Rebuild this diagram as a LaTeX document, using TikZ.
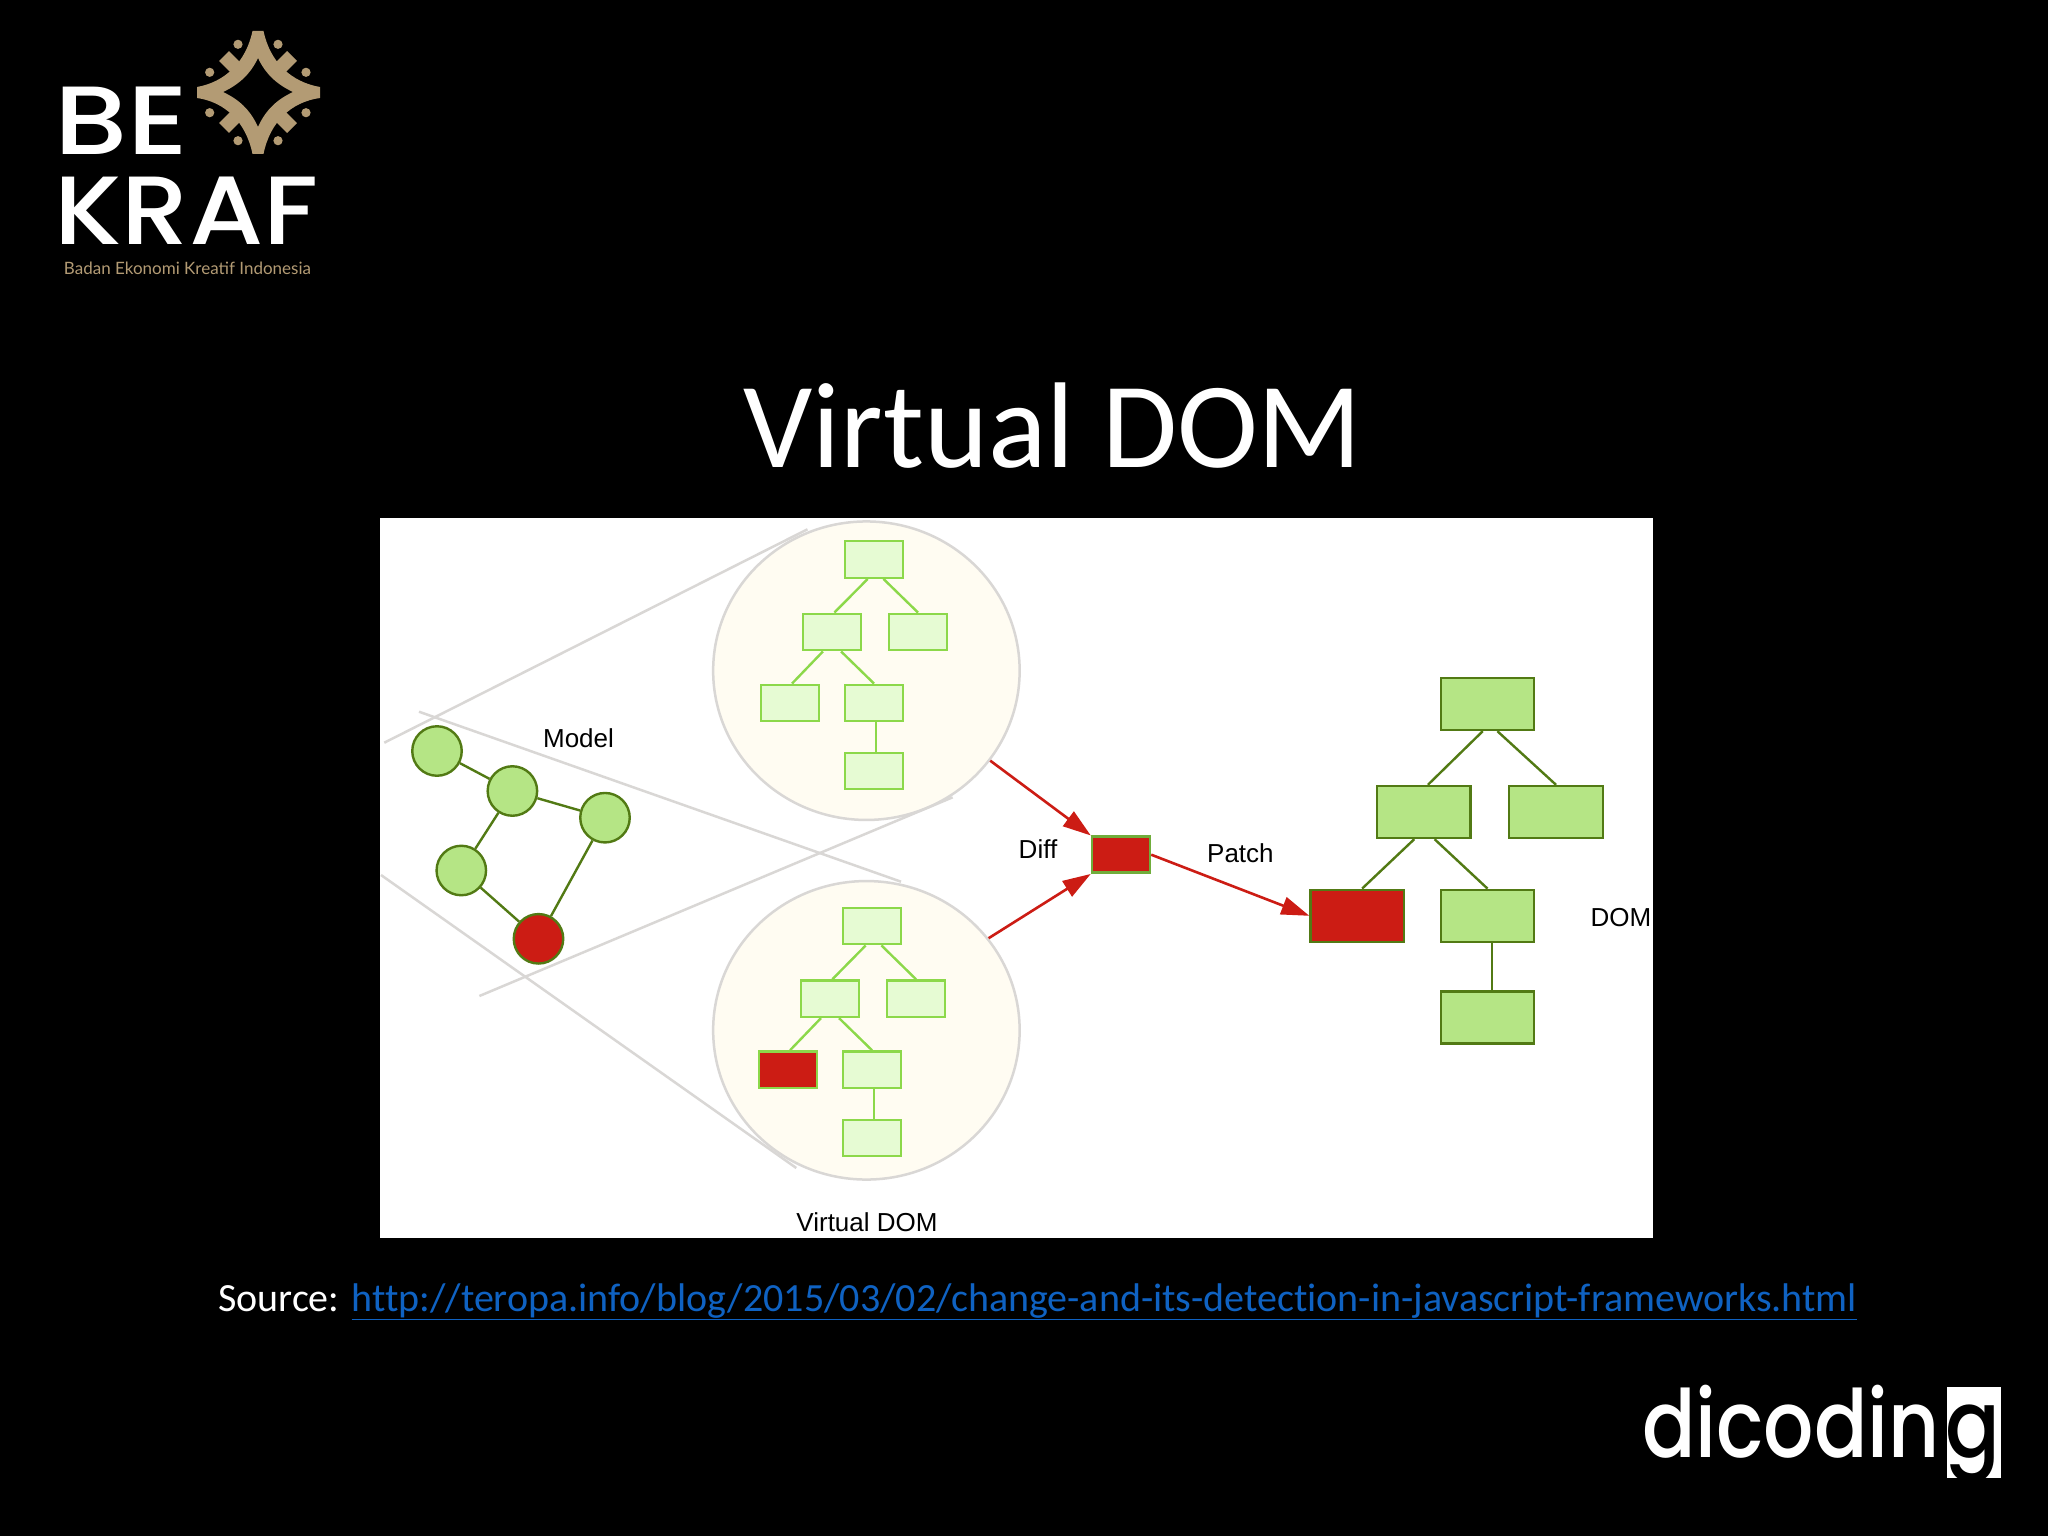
\documentclass[tikz,border=0pt]{standalone}
\usepackage{fontspec}
\setmainfont{Liberation Sans}
\newfontfamily\slidefont[Ligatures=NoCommon]{Carlito}
\newfontfamily\logofont{Poppins Medium}
\newfontfamily\tagfont{Lato}
\usetikzlibrary{arrows.meta,shapes.geometric}
\definecolor{leaf}{HTML}{B5E585}
\definecolor{leafline}{HTML}{527A14}
\definecolor{pale}{HTML}{E6FBD3}
\definecolor{paleline}{HTML}{8CD84A}
\definecolor{alert}{HTML}{CC1C14}
\definecolor{shell}{HTML}{FFFCF2}
\definecolor{guide}{HTML}{D9D7D5}
\definecolor{gold}{HTML}{B39B74}
\definecolor{linkblue}{HTML}{0F62C2}

\begin{document}
\begin{tikzpicture}
    [x=1pt,y=-1pt,
    vbox/.style={rectangle,draw=paleline,fill=pale,line width=2.4pt,inner sep=0,minimum width=58.5pt,minimum height=36.5pt},
    dbox/.style={rectangle,draw=leafline,fill=leaf,line width=2.4pt,inner sep=0,minimum width=93.5pt,minimum height=52pt},
    mcirc/.style={circle,draw=leafline,fill=leaf,line width=2.4pt,inner sep=0,minimum size=49.5pt},
    shellc/.style={ellipse,draw=guide,fill=shell,line width=2.5pt,inner sep=0,minimum width=306.5pt,minimum height=298.5pt},
    vedge/.style={draw=paleline,line width=2.4pt},
    dedge/.style={draw=leafline,line width=2.4pt},
    guideline/.style={draw=guide,line width=2.5pt},
    redarrow/.style={draw=alert,line width=2.6pt,-{Triangle[length=28pt,width=18pt]}},
    lbl/.style={inner sep=0,font=\fontsize{26}{30}\selectfont},
    biglogo/.style={inner sep=0,anchor=base west,text=white,transform shape,font=\logofont\fontsize{97}{100}\selectfont}]
    \fill[black] (0,0) rectangle (2048,1536);
    \useasboundingbox (0,0) rectangle (2048,1536);

    \node[inner sep=0,anchor=base,text=white,font=\slidefont\fontsize{122}{130}\selectfont] (title) at (1053,467) {Virtual DOM};
    \node[inner sep=0,anchor=base west,text=white,font=\slidefont\fontsize{40}{44}\selectfont] (source) at (218,1311)
        {Source: \textcolor{linkblue}{\underline{http://teropa.info/blog/2015/03/02/change-and-its-detection-in-javascript-frameworks.html}}};

    \fill[white] (380,518) rectangle (1652.5,1238);

    \node[shellc] (top) at (866.4,670.7) {};
    \node[shellc] (bottom) at (866.4,1030.3) {};

    \coordinate (g1a) at (384.3,742.7);
    \coordinate (g1b) at (807.5,529.3);
    \coordinate (g2a) at (419,711.7);
    \coordinate (g2b) at (901,881.7);
    \coordinate (g3a) at (479.4,996);
    \coordinate (g3b) at (952.6,797.3);
    \coordinate (g4a) at (381,875);
    \coordinate (g4b) at (796.3,1168);
    \draw[guideline] (g1a) -- (g1b);
    \draw[guideline] (g2a) -- (g2b);
    \draw[guideline] (g3a) -- (g3b);
    \draw[guideline] (g4a) -- (g4b);

    \node[mcirc] (m1) at (437,751) {};
    \node[mcirc] (m2) at (512.4,791) {};
    \node[mcirc] (m3) at (605,817.7) {};
    \node[mcirc] (m4) at (461.3,870.5) {};
    \node[mcirc,fill=alert] (m5) at (538.5,938.8) {};

    \draw[dedge] (m1) -- (m2);
    \draw[dedge] (m2) -- (m3);
    \draw[dedge] (m2) -- (m4);
    \draw[dedge] (m3) -- (m5);
    \draw[dedge] (m4) -- (m5);

    \node[vbox] (v1) at (874,559.5) {};
    \node[vbox] (v2) at (832,632) {};
    \node[vbox] (v3) at (918,632) {};
    \node[vbox] (v4) at (790,703) {};
    \node[vbox] (v5) at (874,703) {};
    \node[vbox] (v6) at (874,771) {};

    \draw[vedge] (v1.-108) -- (v2.83);
    \draw[vedge] (v1.-64) -- (v3.90);
    \draw[vedge] (v2.-115) -- (v4.84);
    \draw[vedge] (v2.-65) -- (v5.90);
    \draw[vedge] (v5.-84) -- (v6.84);

    \node[vbox] (w1) at (872,926) {};
    \node[vbox] (w2) at (830,998.7) {};
    \node[vbox] (w3) at (916,998.7) {};
    \node[vbox,fill=alert] (w4) at (788,1069.7) {};
    \node[vbox] (w5) at (872,1069.7) {};
    \node[vbox] (w6) at (872,1138) {};

    \draw[vedge] (w1.-108) -- (w2.83);
    \draw[vedge] (w1.-64) -- (w3.90);
    \draw[vedge] (w2.-115) -- (w4.84);
    \draw[vedge] (w2.-65) -- (w5.90);
    \draw[vedge] (w5.-84) -- (w6.84);

    \node[rectangle,draw=paleline!80!black,fill=alert,line width=2.5pt,inner sep=0,minimum width=58pt,minimum height=36pt] (diff) at (1121,854.7) {};

    \node[dbox] (d1) at (1487.5,704) {};
    \node[dbox] (d2) at (1423.6,812) {};
    \node[dbox] (d3) at (1556,812) {};
    \node[dbox,fill=alert] (d4) at (1357.3,915.8) {};
    \node[dbox] (d5) at (1487.5,915.8) {};
    \node[dbox] (d6) at (1487.5,1017.5) {};

    \draw[dedge] (d1.-100) -- (d2.81);
    \draw[dedge] (d1.-70) -- (d3.90);
    \draw[dedge] (d2.-109) -- (d4.80);
    \draw[dedge] (d2.-68) -- (d5.90);
    \draw[dedge] (d5.-81) -- (d6.81);

    \draw[redarrow] (top.-36) -- (diff.north west);
    \draw[redarrow] (bottom.37) -- (diff.south west);
    \draw[redarrow] (diff.east) -- (d4.west);

    \node[lbl] (model) at (578.5,738) {Model};
    \node[lbl] (difflbl) at (1038,849) {Diff};
    \node[lbl] (patch) at (1240.4,853) {Patch};
    \node[lbl] (dom) at (1621,917.7) {DOM};
    \node[lbl] (vdom) at (867,1221.7) {Virtual DOM};

    % logo
    \node[biglogo,xscale=1.2] (be) at (54,155) {BE};
    \node[biglogo,xscale=1.1] (kraf) at (54,244) {KRAF};
    \node[inner sep=0,text=gold,font=\tagfont\fontsize{17}{18}\selectfont] (tag) at (187.5,268) {Badan Ekonomi Kreatif Indonesia};
    \fill[gold,even odd rule]
        (252.5,31) .. controls (246,62) and (225,82) .. (197,87) -- (197,98)
        .. controls (225,102) and (246,122) .. (252.5,154) -- (263.5,154)
        .. controls (270,122) and (291,102) .. (320,98) -- (320,87)
        .. controls (291,82) and (270,62) .. (263.5,31) -- cycle
        (258,58) .. controls (266,75) and (278,85) .. (293,92)
        .. controls (278,99) and (266,109) .. (258,127)
        .. controls (250,109) and (238,99) .. (223,92)
        .. controls (238,85) and (250,75) .. (258,58) -- cycle;
    \draw[gold,line width=14pt] (224,56) -- (238,70);
    \draw[gold,line width=14pt] (292,56) -- (278,70);
    \draw[gold,line width=14pt] (224,128) -- (238,114);
    \draw[gold,line width=14pt] (292,128) -- (278,114);
    \foreach \dx/\dy in {238/44.3,278/44.3,209.7/72.3,306/72.3,209.7/112.7,306/112.7,238/140.7,278/140.7}
        \fill[gold] (\dx,\dy) circle (4.6);

    \fill[white] (1947.3,1387.3) rectangle (2001,1478.3);
    \node[inner sep=0,anchor=base west,text=white,font=\logofont\fontsize{94}{100}\selectfont,transform shape,xscale=.84] (dico) at (1642,1457.5) {dicodin};
    \node[inner sep=0,anchor=base west,text=black,font=\logofont\fontsize{94}{100}\selectfont,transform shape,xscale=.86] (gee) at (1945,1457.5) {g};
\end{tikzpicture}
\end{document}
